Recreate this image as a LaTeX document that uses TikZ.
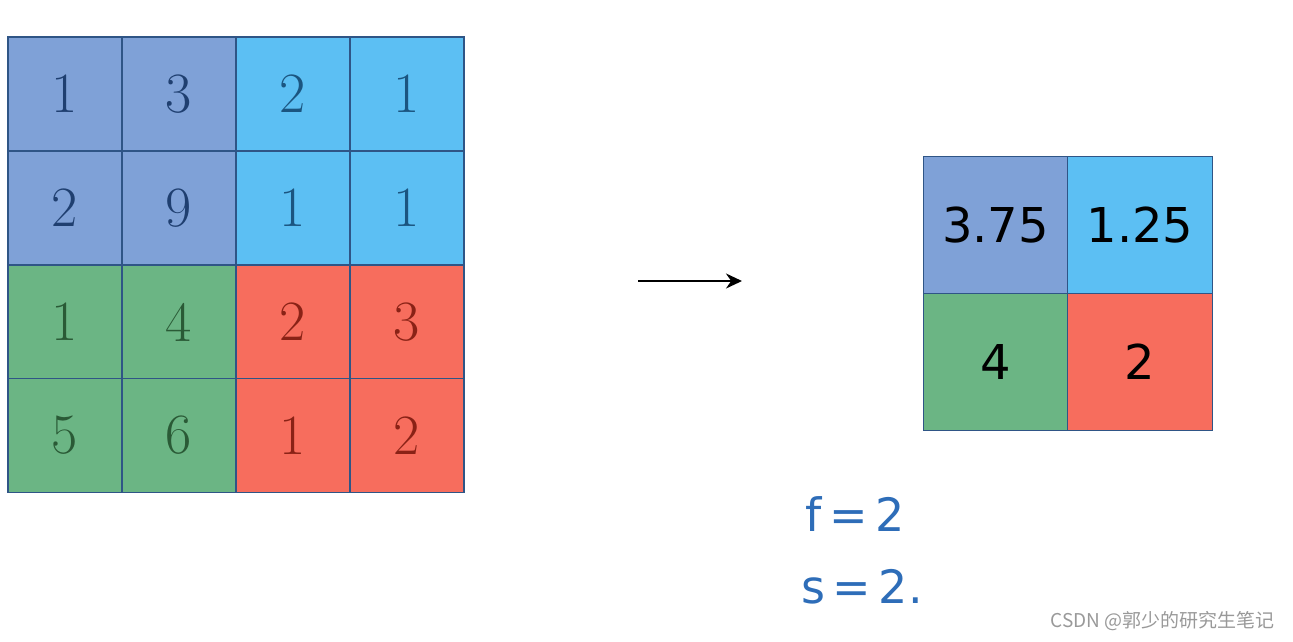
\documentclass[tikz,border=0pt]{standalone}
\usetikzlibrary{arrows.meta}
\usepackage{fontspec}
\newfontfamily\cjk{Noto Sans CJK SC}
\newfontfamily\hand{DejaVu Sans}[Scale=1]
\definecolor{cP}{HTML}{7FA1D7}
\definecolor{cB}{HTML}{5CBFF3}
\definecolor{cG}{HTML}{6BB584}
\definecolor{cR}{HTML}{F76D5D}
\definecolor{tP}{HTML}{1F3F70}
\definecolor{tB}{HTML}{1B5580}
\definecolor{tG}{HTML}{2A5A36}
\definecolor{tR}{HTML}{8A2216}
\definecolor{gridc}{HTML}{2F5586}
\definecolor{penblue}{HTML}{2E6DB8}
\tikzset{
  cell/.style={draw=gridc, line width=1.3pt, minimum width=114pt, minimum height=114pt, inner sep=0pt, font=\fontsize{57}{64}\selectfont},
  ocell/.style={draw=gridc, line width=1.3pt, minimum width=144.5pt, minimum height=137pt, inner sep=0pt, font=\hand\fontsize{48}{54}\selectfont, text=black},
  pen/.style={text=penblue, font=\hand\fontsize{46}{50}\selectfont, anchor=center},
}
\begin{document}
\begin{tikzpicture}[x=1pt,y=-1pt]
\useasboundingbox (0,0) rectangle (1293,641);
% left grid
\node[cell, fill=cP, text=tP] (a11) at (65,94) {1};
\node[cell, fill=cP, text=tP] (a12) at (179,94) {3};
\node[cell, fill=cB, text=tB] (a13) at (293,94) {2};
\node[cell, fill=cB, text=tB] (a14) at (407,94) {1};
\node[cell, fill=cP, text=tP] (a21) at (65,208) {2};
\node[cell, fill=cP, text=tP] (a22) at (179,208) {9};
\node[cell, fill=cB, text=tB] (a23) at (293,208) {1};
\node[cell, fill=cB, text=tB] (a24) at (407,208) {1};
\node[cell, fill=cG, text=tG] (a31) at (65,322) {1};
\node[cell, fill=cG, text=tG] (a32) at (179,322) {4};
\node[cell, fill=cR, text=tR] (a33) at (293,322) {2};
\node[cell, fill=cR, text=tR] (a34) at (407,322) {3};
\node[cell, fill=cG, text=tG] (a41) at (65,435.5) {5};
\node[cell, fill=cG, text=tG] (a42) at (179,435.5) {6};
\node[cell, fill=cR, text=tR] (a43) at (293,435.5) {1};
\node[cell, fill=cR, text=tR] (a44) at (407,435.5) {2};
% right grid
\node[ocell, fill=cP] (b11) at (995.5,225) {3.75};
\node[ocell, fill=cB] (b12) at (1140,225) {1.25};
\node[ocell, fill=cG] (b21) at (995.5,362) {4};
\node[ocell, fill=cR] (b22) at (1140,362) {2};
% arrow
\coordinate (as) at (638,281);
\coordinate (ae) at (742,281);
\draw[line width=2.4pt, -{Stealth[length=16pt,width=15pt]}] (as) -- (ae);
% hyperparameters
\node[pen] (f) at (855,514) {f\,=\,2};
\node[pen] (s) at (862,587) {s\,=\,2.};
% watermark
\node[text=gray!80, font=\cjk\fontsize{19}{22}\selectfont, anchor=east] (wm) at (1278,621) {CSDN @郭少的研究生笔记};
\end{tikzpicture}
\end{document}
